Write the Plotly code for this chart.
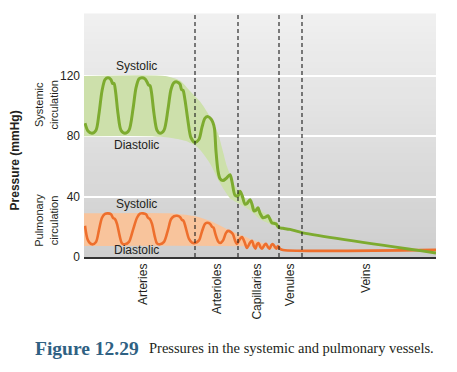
import plotly.graph_objects as go

# ---------------- data (x: position along the vascular tree, 0-352 arbitrary units; y: mmHg) -------------
sys_x = [1, 4, 8, 12, 15, 18, 21, 24, 27, 28.5, 30, 31.5, 34, 37, 41,
         45, 49, 52, 55, 58, 61, 63, 64.5, 66, 67.5, 70, 73, 76,
         80, 84, 87, 90, 93, 96, 97.5, 99, 101, 104, 107, 111,
         115, 118, 121, 124, 127, 129, 130.5, 132, 134, 136, 139,
         142, 146, 148, 151, 154, 156, 158, 161, 163, 166, 168, 170, 172, 174, 176, 179, 181, 184,
         186, 188, 190, 192, 194, 195, 199, 206, 219, 352]
sys_y = [88.7, 83.5, 82, 84, 95, 110, 117.5, 118.7, 117.5, 115, 115, 110, 95, 84, 82,
         84, 98, 112, 118, 118.7, 118, 116, 114, 113.5, 109, 95, 84, 82,
         84, 98, 111, 115.5, 116, 114.5, 111, 110.5, 104, 90, 79, 76,
         78, 86, 92, 93, 91.5, 89, 85, 70, 57, 52, 50.7,
         52, 54.5, 50, 41, 40.5, 43.5, 41, 35, 35.5, 38, 35, 30.5, 31, 32.7, 29, 26, 26.3, 27.3,
         25, 22.5, 22.3, 22, 20, 19.5, 19, 18.3, 16, 2.7]

pul_x = [1, 4, 8, 12, 15, 18, 21, 24, 27, 29, 31, 33, 36, 38, 41,
         45, 49, 53, 56, 59, 62, 64, 66, 68, 71, 73, 76,
         80, 84, 87, 90, 93, 96, 98, 99.5, 101.5, 105, 108, 111,
         115, 118, 121, 123, 126, 128, 129.5, 131.5, 134, 136,
         139, 142, 144, 147, 149, 151, 153,
         156, 158, 160.5, 163, 166, 168, 170, 171.5, 173, 174.5, 176.5, 178, 180.5, 182, 184,
         185.5, 187.5, 189, 191, 192.5, 194, 196, 199, 352]
pul_y = [20.7, 11, 8.4, 10, 18, 26, 28.5, 28.9, 28.3, 26, 25.1, 22, 13, 9, 8.4,
         10, 18, 26, 28.7, 28.9, 28.3, 26, 25, 22, 13, 9, 8.4,
         10, 18, 25, 27, 27.3, 26.5, 24.5, 24, 20, 12, 9.5, 9.3,
         11, 17, 22, 22.7, 22, 20, 19.5, 15, 10.5, 9.3,
         11, 16, 17.3, 16.5, 15, 11, 8.7,
         12, 13.3, 10, 6, 9.5, 10.7, 7, 5.5, 8.5, 9.3, 6.5, 5.5, 8, 8.7, 6.5,
         5.5, 8, 8.5, 6.5, 5.5, 7.3, 5.5, 4.7, 4.7]

sys_band_upper_x = [0, 81, 96, 106, 116, 126, 134, 143, 151, 164, 181, 194, 196]
sys_band_upper_y = [120, 120, 117, 110, 103, 93, 82, 60, 47, 37, 29, 22, 20]
sys_band_lower_x = [0, 66, 86, 101, 111, 116, 126, 136, 146, 156, 166, 176, 186, 194, 196]
sys_band_lower_y = [80, 80, 79, 77, 74, 71, 62, 49, 39, 35, 31, 25, 22, 19.5, 19.5]

pul_band_upper_x = [0, 84, 101, 111, 126, 146, 166, 186, 196]
pul_band_upper_y = [29, 29, 28, 27, 24, 17.5, 12, 7.5, 5]
pul_band_lower_x = [0, 166, 196]
pul_band_lower_y = [7.3, 7, 5]

segment_bounds = [111, 154, 195, 218]
segment_names = ["Arteries", "Arterioles", "Capillaries", "Venules", "Veins"]
segment_label_x = [59, 133, 173, 206, 282]
y_ticks = [0, 40, 80, 120]

X_RANGE = [0, 352]
Y_RANGE = [0, 161]

# ---------------- styling ----------------
GREEN = "#7dab2f"
GREEN_BAND = "#cde0ab"
ORANGE = "#ee6f2d"
ORANGE_BAND = "#f8c49c"
TXT = "#231f20"
FONT = "Liberation Sans, Arial, sans-serif"
SERIF = "Liberation Serif, Times New Roman, serif"

fig = go.Figure()

# bands
fig.add_trace(go.Scatter(
    x=sys_band_upper_x + sys_band_lower_x[::-1],
    y=sys_band_upper_y + sys_band_lower_y[::-1],
    fill="toself", fillcolor=GREEN_BAND, mode="lines",
    line=dict(width=0, shape="spline", smoothing=0.6), hoverinfo="skip", showlegend=False))
fig.add_trace(go.Scatter(
    x=pul_band_upper_x + pul_band_lower_x[::-1],
    y=pul_band_upper_y + pul_band_lower_y[::-1],
    fill="toself", fillcolor=ORANGE_BAND, mode="lines",
    line=dict(width=0, shape="spline", smoothing=0.6), hoverinfo="skip", showlegend=False))

# pressure traces
fig.add_trace(go.Scatter(x=pul_x, y=pul_y, mode="lines",
                         line=dict(color=ORANGE, width=2.6, shape="spline", smoothing=0.8),
                         showlegend=False))
fig.add_trace(go.Scatter(x=sys_x, y=sys_y, mode="lines",
                         line=dict(color=GREEN, width=3, shape="spline", smoothing=0.8),
                         showlegend=False))

# background gradient (light at top, darker at bottom)
shapes = []
N = 40
top = (240, 240, 240)
bot = (206, 206, 206)
for i in range(N):
    t = (i + 0.5) / N
    c = tuple(int(round(bot[k] + (top[k] - bot[k]) * t)) for k in range(3))
    shapes.append(dict(type="rect", xref="paper", yref="paper", x0=0, x1=1,
                       y0=i / N, y1=(i + 1) / N + 0.002, line=dict(width=0),
                       fillcolor="rgb(%d,%d,%d)" % c, layer="below"))
# dashed segment boundaries
for b in segment_bounds:
    shapes.append(dict(type="line", xref="x", yref="paper", x0=b, x1=b, y0=0, y1=1,
                       line=dict(color="#1a1a1a", width=1.1, dash="4px,3px"), layer="above"))

annotations = []
def txt(x, y, s, size=12, xref="x", yref="y", **kw):
    d = dict(x=x, y=y, xref=xref, yref=yref, text=s, showarrow=False,
             xanchor="center", yanchor="middle",
             font=dict(family=FONT, size=size, color=TXT))
    d.update(kw)
    annotations.append(d)

txt(52, 126.7, "Systolic")
txt(52, 74, "Diastolic")
txt(52, 35.3, "Systolic")
txt(52, 4.7, "Diastolic")

plot_l, plot_w = 84, 352
def px2paper(px):
    return (px - plot_l) / plot_w

txt(px2paper(46), 101, "Systemic<br>circulation", size=11, xref="paper", textangle=-90)
txt(px2paper(46), 24, "Pulmonary<br>circulation", size=11, xref="paper", textangle=-90)
txt(px2paper(15), 64, "<b>Pressure (mmHg)</b>", size=12, xref="paper", textangle=-90)

cap_y = (257 - 348) / 243
annotations.append(dict(x=px2paper(33), y=cap_y, xref="paper", yref="paper", xanchor="left",
                        yanchor="middle", showarrow=False, text="<b>Figure 12.29</b>",
                        font=dict(family=SERIF, size=19.5, color="#2f6183")))
annotations.append(dict(x=px2paper(147), y=cap_y, xref="paper", yref="paper", xanchor="left",
                        yanchor="middle", showarrow=False,
                        text="Pressures in the systemic and pulmonary vessels.",
                        font=dict(family=SERIF, size=14.5, color=TXT)))

# the page body adds an 8px offset; compensate so the plot lands where the reference has it
OFF = 8
fig.update_layout(
    width=457 - OFF, height=372 - OFF,
    margin=dict(l=84 - OFF, r=21, t=14 - OFF, b=115, autoexpand=False),
    paper_bgcolor="white", plot_bgcolor="#dcdcdc",
    shapes=shapes, annotations=annotations,
    xaxis=dict(range=X_RANGE, tickvals=segment_label_x, ticktext=segment_names,
               tickangle=-90, ticks="", showgrid=False, zeroline=False,
               showline=True, linecolor="#333333", linewidth=1.5,
               tickfont=dict(family=FONT, size=12, color=TXT)),
    yaxis=dict(range=Y_RANGE, tickvals=y_ticks, ticks="", showgrid=True,
               gridcolor="white", gridwidth=1.5, zeroline=False, showline=False,
               ticklabelstandoff=3,
               tickfont=dict(family=FONT, size=12, color=TXT)),
)

fig.write_html("out.html")
